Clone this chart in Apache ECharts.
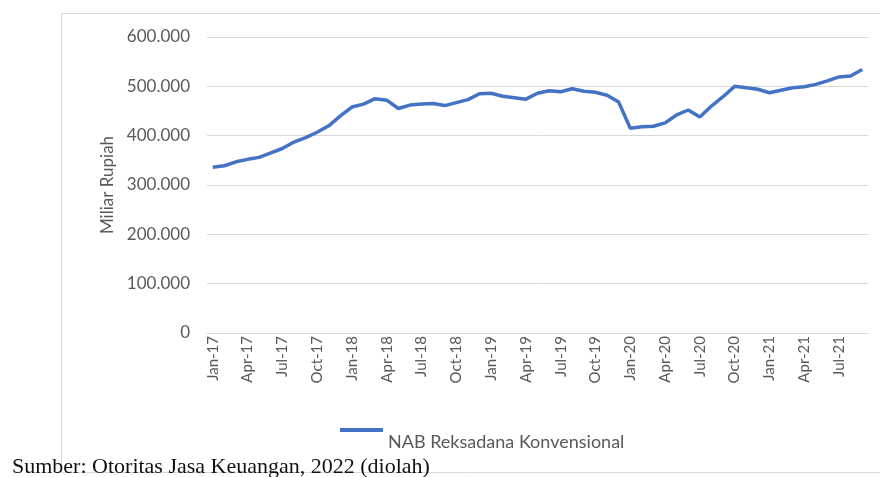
<!DOCTYPE html>
<html>
<head>
<meta charset="utf-8">
<script src="https://cdn.jsdelivr.net/npm/echarts@6/dist/echarts.min.js"></script>
<style>
	html, body { margin: 0; padding: 0; background: #fff; }
	#main { width: 880px; height: 477px; }
</style>
</head>
<body>
<div id="main"></div>
<script>
	// monthly categories Jan-17 .. Sep-21
	var monthNames = ['Jan','Feb','Mar','Apr','May','Jun','Jul','Aug','Sep','Oct','Nov','Dec'];
	var years = ['17','18','19','20','21'];
	var categories = [];
	years.forEach(function(y){
		monthNames.forEach(function(m){
			categories.push(m + '-' + y);
		});
	});
	categories = categories.slice(0, 57);

	// NAB Reksadana Konvensional (miliar rupiah)
	var nabValues = [
		336000, 339000, 347000, 352000, 356000, 365000, 374000, 387000, 396000, 407000, 420000, 440000,
		458000, 464000, 475000, 472000, 455000, 462000, 464000, 465000, 461000, 467000, 473000, 485000,
		486000, 480000, 477000, 474000, 486000, 491000, 489000, 495000, 490000, 488000, 482000, 468000,
		415000, 418000, 419000, 426000, 442000, 452000, 438000, 460000, 479000, 500000, 497000, 494000,
		487000, 492000, 497000, 499000, 504000, 511000, 519000, 521000, 534000
	];

	var seriesName = 'NAB Reksadana Konvensional';
	var sourceText = 'Sumber: Otoritas Jasa Keuangan, 2022 (diolah)';

	var fmt = function(v){
		return String(v).replace(/\B(?=(\d{3})+(?!\d))/g, '.');
	};

	var gray = '#595959';
	var font = 'Lato, "Open Sans", sans-serif';

	var option = {
		backgroundColor: '#fff',
		animation: false,
		grid: {
			left: 207,
			right: 12,
			top: 37,
			bottom: 144
		},
		legend: {
			left: 335,
			top: 423,
			icon: 'rect',
			itemWidth: 43,
			itemHeight: 4,
			itemGap: 5,
			data: [seriesName],
			formatter: '{t|{name}}',
			textStyle: {
				color: gray,
				fontFamily: font,
				fontSize: 18,
				rich: {
					t: {
						color: gray,
						fontFamily: font,
						fontSize: 18,
						padding: [24, 0, 0, 0]
					}
				}
			}
		},
		xAxis: {
			type: 'category',
			data: categories,
			boundaryGap: true,
			axisLine: { lineStyle: { color: '#d9d9d9' } },
			axisTick: { show: false },
			axisLabel: {
				interval: 2,
				rotate: 90,
				margin: 3,
				color: gray,
				fontFamily: font,
				fontSize: 15
			}
		},
		yAxis: {
			type: 'value',
			min: 0,
			max: 600000,
			interval: 100000,
			name: 'Miliar Rupiah',
			nameLocation: 'middle',
			nameGap: 90,
			nameRotate: 90,
			nameTextStyle: {
				color: gray,
				fontFamily: font,
				fontSize: 17
			},
			axisLine: { show: false },
			axisTick: { show: false },
			splitLine: { lineStyle: { color: '#d9d9d9', width: 1 } },
			axisLabel: {
				margin: 17,
				color: gray,
				fontFamily: font,
				fontSize: 17,
				padding: [4, 0, 0, 0],
				formatter: fmt
			}
		},
		graphic: [
			{
				type: 'rect',
				shape: { x: 61.5, y: 13.5, width: 840, height: 459 },
				style: { fill: 'none', stroke: '#d9d9d9', lineWidth: 1 },
				z: -1
			},
			{
				type: 'text',
				left: 12,
				top: 456,
				style: {
					text: sourceText,
					fill: '#111',
					font: '22px "Liberation Serif", "Times New Roman", serif'
				}
			}
		],
		series: [{
			name: seriesName,
			type: 'line',
			data: nabValues,
			symbol: 'none',
			lineStyle: { color: '#4472c4', width: 3.5 },
			itemStyle: { color: '#4472c4' }
		}]
	};

	var chart = echarts.init(document.getElementById('main'));
	chart.setOption(option, true);
</script>
</body>
</html>
